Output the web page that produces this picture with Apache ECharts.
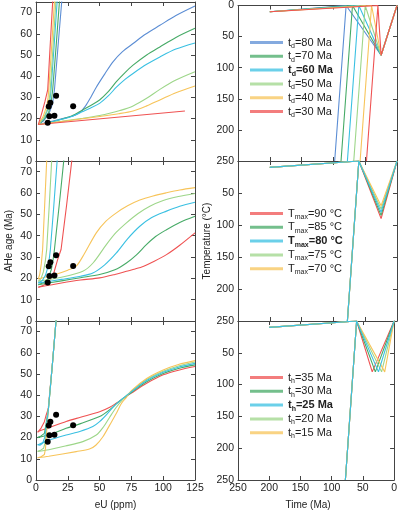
<!DOCTYPE html>
<html><head><meta charset="utf-8">
<script src="https://cdn.jsdelivr.net/npm/echarts@6/dist/echarts.min.js"></script>
<style>html,body{margin:0;padding:0;background:#fff}#c{width:400px;height:513px}</style>
</head><body><div id="c"></div>
<script>
// ---------- data ----------
const eUTicks = [0, 25, 50, 75, 100, 125];
const ageTicks = [0, 10, 20, 30, 40, 50, 60, 70];
const timeTicks = [250, 200, 150, 100, 50, 0];
const tempTicks = [0, 50, 100, 150, 200, 250];

const sampleEU  = [9.2, 10.0, 10.5, 11.3, 14.5, 15.8, 29.2];
const sampleAge = [18.1, 25.7, 21.1, 27.5, 21.3, 30.8, 25.8];

// Panel row 1: t_d
const tdNames = ['t_d=80 Ma', 't_d=70 Ma', 't_d=60 Ma', 't_d=50 Ma', 't_d=40 Ma', 't_d=30 Ma'];
const tdSteep = [
  [[1.8,17.2],[6,19],[10,22],[13,27],[14.5,33.5],[17.3,54],[20.2,75],[20.8,80]],
  [[1.8,17.2],[6,19.4],[10,23],[12,28],[13.1,33.5],[15.8,54],[18.4,75],[19,80]],
  [[1.8,17.2],[6,19.8],[9.5,24.5],[11,29],[11.8,33.5],[14.2,54],[16.6,75],[17.2,80]],
  [[1.8,17.2],[6,20.2],[9.3,25],[10.6,30],[11.2,33.5],[13.4,54],[15.6,75],[16.2,80]],
  [[1.8,17.2],[5.5,20.8],[8.5,26],[9.5,30],[10,33.5],[12.3,54],[14.5,75],[15,80]],
  [[1.8,17.2],[4.5,22.5],[7,28],[9.2,33.5],[11.1,54],[13.1,75],[13.6,80]]
];
const tdShallow = [
  [[1.8,17.2],[15,19.1],[25,20.6],[31,21.7],[35,23.2],[39,26],[43,30],[47.4,34.8],[54,41],[60.5,46.8],[68,51.6],[76.3,55.4],[86,59.8],[97.4,64],[110,68.6],[125,73.1]],
  [[1.8,17.2],[15,18.9],[28,21.2],[36.8,24.1],[43,26.2],[50,28.8],[57,32.8],[63.2,37.4],[70,41.7],[76.3,45.2],[87,50],[97.4,53.8],[110,58.3],[125,62.6]],
  [[1.8,17.2],[15,18.9],[28,21],[36.8,23.3],[43,25],[50,27.2],[57,30.8],[63.2,34.8],[70,38.5],[76.3,41.3],[87,45.6],[97.4,49.1],[110,52.8],[125,55.7]],
  [[1.8,17.2],[20,18.7],[36.8,20.2],[50,21.5],[57.9,22.5],[66,23.8],[76.3,26],[87,29.6],[97.4,33.8],[110,38.2],[125,42.1]],
  [[1.8,17.2],[23.7,18.9],[50,21],[65,22.3],[76.3,23.6],[87,26],[97.4,28.8],[110,32.2],[125,35.4]],
  [[1.8,17.2],[117.1,23.6]]
];
const tdPaths = [
  [[200,10],[80,0],[98,250],[80,0],[25,80],[0,0]],
  [[200,10],[70,0],[88,250],[70,0],[25,80],[0,0]],
  [[200,10],[60,0],[78,250],[60,0],[25,80],[0,0]],
  [[200,10],[50,0],[68,250],[50,0],[25,80],[0,0]],
  [[200,10],[40,0],[58,250],[40,0],[25,80],[0,0]],
  [[200,10],[30,0],[48,250],[30,0],[25,80],[0,0]]
];

// Panel row 2: T_max
const tmNames = ['T_max=90 °C', 'T_max=85 °C', 'T_max=80 °C', 'T_max=75 °C', 'T_max=70 °C'];
const tmSteep = [
  [[1.8,15.8],[6,16.8],[10.5,18.6],[14,22.5],[17,28.8],[19.7,33.5],[24,54],[28.1,75],[29,80]],
  [[1.8,17],[6,18],[9.5,19.8],[12,24],[13.5,29],[14.5,33.5],[18.2,54],[21.8,75],[22.5,80]],
  [[1.8,17.8],[5,19],[7.5,21.5],[9.5,25.5],[10.6,30],[11.3,33.5],[14,54],[16.6,75],[17.2,80]],
  [[1.8,18.6],[4,20],[5.8,23],[7.3,28],[8.4,33.5],[10.4,54],[12.3,75],[12.8,80]],
  [[1.8,19.7],[3,22],[4.2,27],[5.2,33.5],[6.8,54],[8.4,75],[8.8,80]]
];
const tmShallow = [
  [[1.8,15.8],[20,17.8],[35,19.2],[50,20.2],[62,21.8],[71.1,23.3],[78,24.4],[84.7,25.7],[93,28],[102.6,31.1],[113,35.5],[125,41.3]],
  [[1.8,17],[20,18.8],[35,20.3],[50,21.8],[62,24],[71.1,27.2],[79,31],[86.8,35.8],[94,39.6],[102.6,42.8],[113,46.2],[125,49.1]],
  [[1.8,17.8],[20,19.5],[35,21],[44.7,22.5],[54,26.3],[63.2,31.9],[72,38.5],[81.6,44.4],[91,48.5],[102.6,51.5],[113,53.8],[125,55.7]],
  [[1.8,18.6],[20,20.5],[36.8,23.3],[45,27.3],[55.3,35.8],[63,41.5],[71.1,46],[80,50.3],[89.5,53.8],[100,56.5],[112,58.4],[125,59.8]],
  [[1.8,19.7],[15,21.8],[25,23.8],[31.6,25.7],[38,31.5],[47.4,41.3],[55,46.8],[63.2,50.7],[72,54],[81.6,56.7],[92,58.6],[102.6,60.1],[113,61.4],[125,62.5]]
];
const tmPaths = [
  [[200,10],[60,0],[78,250],[60,0],[25,90],[0,0]],
  [[200,10],[60,0],[78,250],[60,0],[25,85],[0,0]],
  [[200,10],[60,0],[78,250],[60,0],[25,80],[0,0]],
  [[200,10],[60,0],[78,250],[60,0],[25,75],[0,0]],
  [[200,10],[60,0],[78,250],[60,0],[25,70],[0,0]]
];

// Panel row 3: t_h
const thNames = ['t_h=35 Ma', 't_h=30 Ma', 't_h=25 Ma', 't_h=20 Ma', 't_h=15 Ma'];
const thSteep = [
  [[1.3,22.5],[4,24.5],[6.6,27.5],[7.9,30.5],[9,32.5],[9.7,34],[12.8,54],[15.8,75.5],[16.3,80]],
  [[1.3,20],[4,20.8],[6.6,22],[7.8,26],[8.8,30],[9.7,33],[12.8,54],[15.8,75.5],[16.3,80]],
  [[1.3,16.7],[3,16.4],[5.2,17.3],[6.8,20],[8,25],[9,29.5],[9.7,33],[12.8,54],[15.8,75.5],[16.3,80]],
  [[1.3,13.5],[4,14.2],[6,15],[7.3,18],[8.2,24],[9,29],[9.7,33],[12.8,54],[15.8,75.5],[16.3,80]],
  [[1.3,10.5],[4,11],[6.6,12],[7.5,15],[8.3,22],[9,28],[9.7,33],[12.8,54],[15.8,75.5],[16.3,80]]
];
const thShallow = [
  [[1.3,22.8],[10,24.6],[23.7,27.6],[35,29.6],[50,32.2],[58,34.3],[63,36.2],[67,37.8],[75,41],[87,45.6],[100,49.6],[112,51.8],[125,53.5]],
  [[1.3,20],[10,21.3],[23.7,24.4],[35,26.6],[50,29.9],[58,33.2],[63,35.9],[67,37.8],[75,41.3],[87,46.3],[100,50.2],[112,52.6],[125,54.3]],
  [[1.3,16.5],[10,18.7],[23.7,21.2],[35,23],[44.7,25.2],[50,27.5],[55.3,30.7],[61,34.6],[67,37.9],[75,41.6],[87,46.9],[100,50.8],[112,53.2],[125,55]],
  [[1.3,13.5],[10,14.3],[23,16],[36.8,18.1],[47.4,21.2],[53,25],[57.9,29.6],[63,34.2],[68.4,38.2],[75,41.9],[87,47.4],[100,51.3],[112,53.8],[125,55.7]],
  [[1.3,10.5],[10,11.2],[31.6,13.4],[42,14.6],[47,16.4],[52.6,20.4],[58,26],[63.2,31.5],[67,36],[71.1,39],[75,42.2],[87,47.9],[100,51.9],[112,54.5],[125,56.3]]
];
const thPaths = [
  [[200,10],[60,0],[78,250],[60,0],[35,80],[0,0]],
  [[200,10],[60,0],[78,250],[60,0],[30,80],[0,0]],
  [[200,10],[60,0],[78,250],[60,0],[25,80],[0,0]],
  [[200,10],[60,0],[78,250],[60,0],[20,80],[0,0]],
  [[200,10],[60,0],[78,250],[60,0],[15,80],[0,0]]
];

const boldNames = ['t_d=60 Ma', 'T_max=80 °C', 't_h=25 Ma'];

// ---------- style ----------
const FONT = "'Liberation Sans', Arial, Helvetica, sans-serif";
const COL = {blue:'#5b8dd4', dkgreen:'#46aa66', cyan:'#3ac0e2', ltgreen:'#9dd689', orange:'#f7c45a', red:'#ef5252'};
const tdColors = [COL.blue, COL.dkgreen, COL.cyan, COL.ltgreen, COL.orange, COL.red];
const tmColors = [COL.red, COL.dkgreen, COL.cyan, COL.ltgreen, COL.orange];
const thColors = [COL.red, COL.dkgreen, COL.cyan, COL.ltgreen, COL.orange];

const AX = '#444';
const LBL = '#222';

const grids = [
  {left:36, top:2, width:159, height:159},
  {left:238, top:2, width:159, height:159},
  {left:36, top:161, width:159, height:160},
  {left:238, top:161, width:159, height:160},
  {left:36, top:321, width:159, height:159},
  {left:238, top:321, width:159, height:159}
];

const xAxes = [], yAxes = [];
function baseAxis(extra) {
  return Object.assign({
    type:'value', splitLine:{show:false},
    axisLine:{show:true, onZero:false, lineStyle:{color:AX, width:1}},
    axisTick:{show:true, inside:true, length:4, lineStyle:{color:AX, width:1}},
  }, extra);
}
for (let i = 0; i < 6; i++) {
  const left = i % 2 === 0;
  const row = Math.floor(i / 2);
  const bottomRow = row === 2;
  const xcfg = left ? {min:0, max:125, interval:25} : {min:0, max:250, interval:50, inverse:true};
  const xt = left ? eUTicks : timeTicks;
  xAxes.push(baseAxis(Object.assign({gridIndex:i, position:'bottom',
    axisLabel:{show:bottomRow, margin:3, fontSize:10.5, color:LBL, fontFamily:FONT,
      formatter:v => xt.includes(v) ? String(v) : ''},
    name: bottomRow ? (left ? 'eU (ppm)' : 'Time (Ma)') : '',
    nameLocation:'middle', nameGap:20,
    nameTextStyle:{fontSize:10, color:LBL, fontFamily:FONT, padding: left ? 0 : [0,16,0,0]}
  }, xcfg)));
  xAxes.push(baseAxis(Object.assign({gridIndex:i, position:'top', axisLabel:{show:false}}, xcfg)));
  const ycfg = left ? {min:0, max:75, interval:10} : {min:0, max:250, interval:50, inverse:true};
  const yt = left ? ageTicks : tempTicks;
  const hideZero = !left && row > 0;
  yAxes.push(baseAxis(Object.assign({gridIndex:i, position:'left',
    axisLabel:{show:true, margin:4, fontSize:10.5, color:LBL, fontFamily:FONT,
      formatter:v => (yt.includes(v) && !(hideZero && v === 0)) ? String(v) : ''},
    name: row === 1 ? (left ? 'AHe age (Ma)' : 'Temperature (°C)') : '',
    nameLocation:'middle', nameGap: left ? 22 : 25,
    nameTextStyle:{fontSize:10, color:LBL, fontFamily:FONT}
  }, ycfg)));
  yAxes.push(baseAxis(Object.assign({gridIndex:i, position:'right', axisLabel:{show:false}}, ycfg)));
}

const series = [];
function addLine(name, color, data, gi, smooth, z) {
  series.push({type:'line', name, xAxisIndex:2*gi, yAxisIndex:2*gi, data,
    symbol:'none', showSymbol:false, smooth: smooth ? 0.3 : false,
    color, lineStyle:{width:1.1, color}, clip:true, silent:true, z});
}
function addPanel(names, colors, steep, shallow, paths, row) {
  names.forEach((n, k) => {
    const z = colors[k] === COL.cyan && row > 0 ? 4 : 2;
    addLine(n, colors[k], paths[k], 2*row + 1, false, z);
    addLine(n, colors[k], steep[k], 2*row, false, z);
    addLine(n, colors[k], shallow[k], 2*row, true, z);
  });
  series.push({type:'scatter', name:'samples', xAxisIndex:4*row, yAxisIndex:4*row,
    data: sampleEU.map((e, j) => [e, sampleAge[j]]), symbolSize:6,
    itemStyle:{color:'#000', opacity:1}, z:10, silent:true});
}
addPanel(tdNames, tdColors, tdSteep, tdShallow, tdPaths, 0);
addPanel(tmNames, tmColors, tmSteep, tmShallow, tmPaths, 1);
addPanel(thNames, thColors, thSteep, thShallow, thPaths, 2);

function fmt(name) {
  const m = name.match(/^(\w)_(\w+)(=.*)$/);
  const b = boldNames.includes(name);
  const M = b ? 'mb' : 'm', S = b ? 'sb' : 's';
  return '{' + M + '|' + m[1] + '}{' + S + '|' + m[2] + '}{' + M + '|' + m[3] + '}';
}
const rich = {
  m:{fontSize:11, lineHeight:14, fontFamily:FONT, color:LBL},
  mb:{fontSize:11, lineHeight:14, fontFamily:FONT, color:LBL, fontWeight:'bold'},
  s:{fontSize:7, lineHeight:6, verticalAlign:'bottom', fontFamily:FONT, color:LBL},
  sb:{fontSize:7, lineHeight:6, verticalAlign:'bottom', fontFamily:FONT, color:LBL, fontWeight:'bold'}
};
function legend(names, top) {
  return {orient:'vertical', left:245, top, itemWidth:33, itemHeight:3, itemGap:1.3,
    icon:'rect', data:names, selectedMode:false, formatter:fmt,
    itemStyle:{opacity:0.75}, textStyle:{rich, fontFamily:FONT, fontSize:11, color:LBL}};
}

const option = {
  animation:false,
  backgroundColor:'#fff',
  grid: grids,
  xAxis: xAxes,
  yAxis: yAxes,
  legend: [legend(tdNames, 32), legend(tmNames, 203), legend(thNames, 367)],
  series
};
const chart = echarts.init(document.getElementById('c'), null, {renderer:'canvas'});
chart.setOption(option);
</script></body></html>
